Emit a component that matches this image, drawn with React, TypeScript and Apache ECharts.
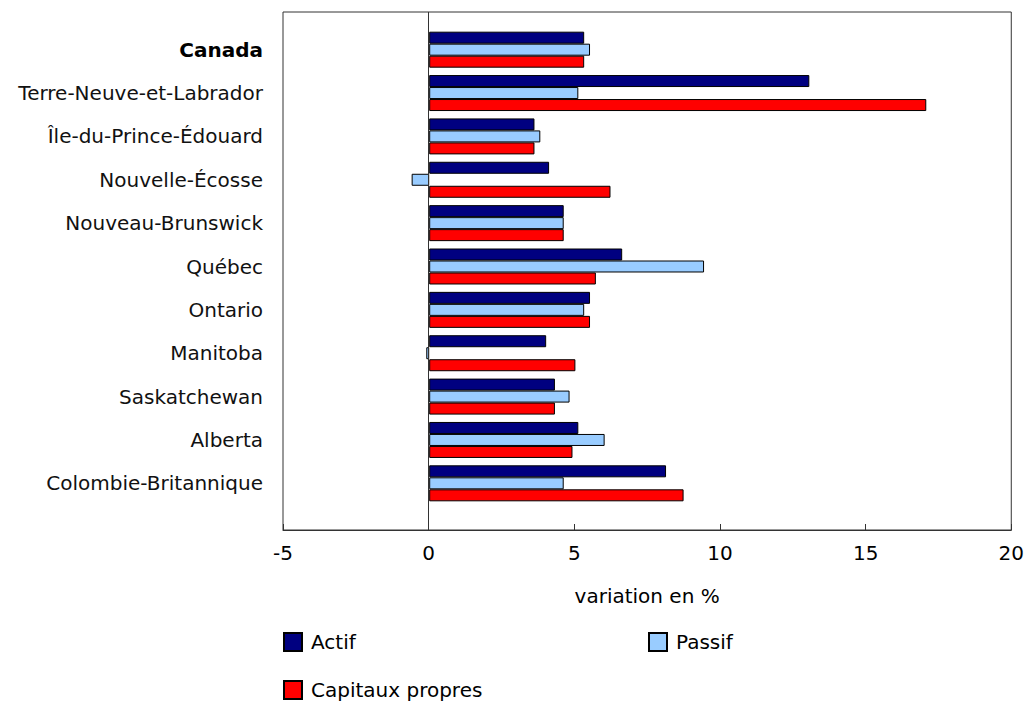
import React, { useEffect, useRef } from "react";
import * as echarts from "echarts";

const categories = [
  "Canada",
  "Terre-Neuve-et-Labrador",
  "Île-du-Prince-Édouard",
  "Nouvelle-Écosse",
  "Nouveau-Brunswick",
  "Québec",
  "Ontario",
  "Manitoba",
  "Saskatchewan",
  "Alberta",
  "Colombie-Britannique",
];
const actif = [5.3, 13.0, 3.6, 4.1, 4.6, 6.6, 5.5, 4.0, 4.3, 5.1, 8.1];
const passif = [5.5, 5.1, 3.8, -0.6, 4.6, 9.4, 5.3, -0.1, 4.8, 6.0, 4.6];
const capitaux = [5.3, 17.0, 3.6, 6.2, 4.6, 5.7, 5.5, 5.0, 4.3, 4.9, 8.7];
const xTicks = { min: -5, max: 20, interval: 5 };
const axisName = "variation en %";

const FONT = "DejaVu Sans, Verdana, sans-serif";
const FS = 20;

export default function App() {
  const ref = useRef<HTMLDivElement>(null);
  useEffect(() => {
    if (!ref.current) return;
    const chart = echarts.init(ref.current, undefined, { renderer: "svg" });
    const barCommon = {
      type: "bar" as const,
      xAxisIndex: 0,
      yAxisIndex: 0,
      barGap: "0%",
      barCategoryGap: "17%",
      itemStyle: { borderColor: "#000", borderWidth: 1 },
    };
    const legendCommon = {
      icon: "rect",
      itemWidth: 18,
      itemHeight: 18,
      itemGap: 8,
      padding: 0,
      orient: "horizontal" as const,
      textStyle: { fontSize: FS, fontFamily: FONT, color: "#000", padding: [0, 0, 0, 4] },
      selectedMode: false,
    };
    chart.setOption({
      animation: false,
      textStyle: { fontFamily: FONT },
      grid: [
        { left: 283, width: 731, top: 28, height: 477, containLabel: false },
        {
          left: 283,
          width: 731,
          top: 12,
          height: 518,
          show: true,
          borderColor: "#333",
          borderWidth: 1,
          backgroundColor: "transparent",
        },
      ],
      xAxis: [
        { gridIndex: 0, type: "value", ...xTicks, show: false },
        {
          gridIndex: 1,
          type: "value",
          ...xTicks,
          axisLine: { show: true, onZero: false, lineStyle: { color: "#333", width: 1 } },
          axisTick: { show: true, inside: true, length: 6, lineStyle: { color: "#333" } },
          splitLine: { show: false },
          axisLabel: { fontSize: FS, color: "#000", margin: 13, fontFamily: FONT },
          name: axisName,
          nameLocation: "middle",
          nameGap: 56,
          nameTextStyle: { fontSize: FS, color: "#000", fontFamily: FONT },
        },
      ],
      yAxis: [
        {
          gridIndex: 0,
          type: "category",
          inverse: true,
          data: categories,
          axisLine: { show: false },
          axisTick: { show: false },
          axisLabel: {
            fontSize: FS,
            color: "#111",
            margin: 20,
            fontFamily: FONT,
            formatter: (v: string) => (v === "Canada" ? `{b|${v}}` : v),
            rich: {
              b: { fontWeight: "bold", fontSize: FS, color: "#000", fontFamily: FONT },
            },
          },
        },
        { gridIndex: 1, type: "value", min: 0, max: 1, show: false },
      ],
      legend: [
        { ...legendCommon, left: 283, top: 632, data: ["Actif"] },
        { ...legendCommon, left: 648, top: 632, data: ["Passif"] },
        { ...legendCommon, left: 283, top: 680, data: ["Capitaux propres"] },
      ],
      series: [
        { ...barCommon, name: "Actif", data: actif, itemStyle: { ...barCommon.itemStyle, color: "#000080" } },
        { ...barCommon, name: "Passif", data: passif, itemStyle: { ...barCommon.itemStyle, color: "#99CCFF" } },
        { ...barCommon, name: "Capitaux propres", data: capitaux, itemStyle: { ...barCommon.itemStyle, color: "#FF0000" } },
        {
          type: "line",
          name: "zero",
          xAxisIndex: 1,
          yAxisIndex: 1,
          data: [[0, 0]],
          showSymbol: false,
          symbol: "none",
          silent: true,
          markLine: {
            silent: true,
            symbol: "none",
            label: { show: false },
            lineStyle: { color: "#333", width: 1, type: "solid" },
            data: [{ xAxis: 0 }],
          },
        },
      ],
    });
    return () => chart.dispose();
  }, []);
  return (
    <div
      ref={ref}
      style={{ position: "fixed", left: 0, top: 0, width: 1027, height: 705, background: "#fff" }}
    />
  );
}
